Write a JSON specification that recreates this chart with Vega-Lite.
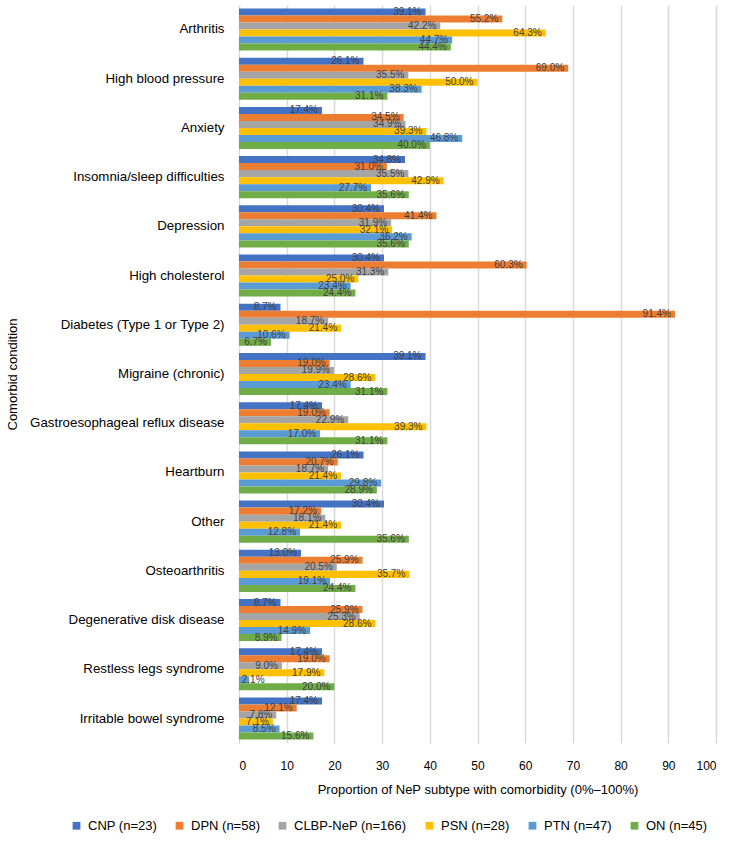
{
  "$schema": "https://vega.github.io/schema/vega-lite/v6.json",
  "autosize": {"type": "none"},
  "padding": {"left": 239, "top": 5, "right": 20, "bottom": 100},
  "width": 477,
  "height": 738,
  "background": "white",
  "config": {
    "font": "Liberation Sans",
    "view": {"stroke": null}
  },
  "data": {
    "values": [
      {"condition": "Arthritis", "group": "CNP (n=23)", "value": 39.1},
      {"condition": "Arthritis", "group": "DPN (n=58)", "value": 55.2},
      {"condition": "Arthritis", "group": "CLBP-NeP (n=166)", "value": 42.2},
      {"condition": "Arthritis", "group": "PSN (n=28)", "value": 64.3},
      {"condition": "Arthritis", "group": "PTN (n=47)", "value": 44.7},
      {"condition": "Arthritis", "group": "ON (n=45)", "value": 44.4},
      {"condition": "High blood pressure", "group": "CNP (n=23)", "value": 26.1},
      {"condition": "High blood pressure", "group": "DPN (n=58)", "value": 69.0},
      {"condition": "High blood pressure", "group": "CLBP-NeP (n=166)", "value": 35.5},
      {"condition": "High blood pressure", "group": "PSN (n=28)", "value": 50.0},
      {"condition": "High blood pressure", "group": "PTN (n=47)", "value": 38.3},
      {"condition": "High blood pressure", "group": "ON (n=45)", "value": 31.1},
      {"condition": "Anxiety", "group": "CNP (n=23)", "value": 17.4},
      {"condition": "Anxiety", "group": "DPN (n=58)", "value": 34.5},
      {"condition": "Anxiety", "group": "CLBP-NeP (n=166)", "value": 34.9},
      {"condition": "Anxiety", "group": "PSN (n=28)", "value": 39.3},
      {"condition": "Anxiety", "group": "PTN (n=47)", "value": 46.8},
      {"condition": "Anxiety", "group": "ON (n=45)", "value": 40.0},
      {"condition": "Insomnia/sleep difficulties", "group": "CNP (n=23)", "value": 34.8},
      {"condition": "Insomnia/sleep difficulties", "group": "DPN (n=58)", "value": 31.0},
      {"condition": "Insomnia/sleep difficulties", "group": "CLBP-NeP (n=166)", "value": 35.5},
      {"condition": "Insomnia/sleep difficulties", "group": "PSN (n=28)", "value": 42.9},
      {"condition": "Insomnia/sleep difficulties", "group": "PTN (n=47)", "value": 27.7},
      {"condition": "Insomnia/sleep difficulties", "group": "ON (n=45)", "value": 35.6},
      {"condition": "Depression", "group": "CNP (n=23)", "value": 30.4},
      {"condition": "Depression", "group": "DPN (n=58)", "value": 41.4},
      {"condition": "Depression", "group": "CLBP-NeP (n=166)", "value": 31.9},
      {"condition": "Depression", "group": "PSN (n=28)", "value": 32.1},
      {"condition": "Depression", "group": "PTN (n=47)", "value": 36.2},
      {"condition": "Depression", "group": "ON (n=45)", "value": 35.6},
      {"condition": "High cholesterol", "group": "CNP (n=23)", "value": 30.4},
      {"condition": "High cholesterol", "group": "DPN (n=58)", "value": 60.3},
      {"condition": "High cholesterol", "group": "CLBP-NeP (n=166)", "value": 31.3},
      {"condition": "High cholesterol", "group": "PSN (n=28)", "value": 25.0},
      {"condition": "High cholesterol", "group": "PTN (n=47)", "value": 23.4},
      {"condition": "High cholesterol", "group": "ON (n=45)", "value": 24.4},
      {"condition": "Diabetes (Type 1 or Type 2)", "group": "CNP (n=23)", "value": 8.7},
      {"condition": "Diabetes (Type 1 or Type 2)", "group": "DPN (n=58)", "value": 91.4},
      {"condition": "Diabetes (Type 1 or Type 2)", "group": "CLBP-NeP (n=166)", "value": 18.7},
      {"condition": "Diabetes (Type 1 or Type 2)", "group": "PSN (n=28)", "value": 21.4},
      {"condition": "Diabetes (Type 1 or Type 2)", "group": "PTN (n=47)", "value": 10.6},
      {"condition": "Diabetes (Type 1 or Type 2)", "group": "ON (n=45)", "value": 6.7},
      {"condition": "Migraine (chronic)", "group": "CNP (n=23)", "value": 39.1},
      {"condition": "Migraine (chronic)", "group": "DPN (n=58)", "value": 19.0},
      {"condition": "Migraine (chronic)", "group": "CLBP-NeP (n=166)", "value": 19.9},
      {"condition": "Migraine (chronic)", "group": "PSN (n=28)", "value": 28.6},
      {"condition": "Migraine (chronic)", "group": "PTN (n=47)", "value": 23.4},
      {"condition": "Migraine (chronic)", "group": "ON (n=45)", "value": 31.1},
      {"condition": "Gastroesophageal reflux disease", "group": "CNP (n=23)", "value": 17.4},
      {"condition": "Gastroesophageal reflux disease", "group": "DPN (n=58)", "value": 19.0},
      {"condition": "Gastroesophageal reflux disease", "group": "CLBP-NeP (n=166)", "value": 22.9},
      {"condition": "Gastroesophageal reflux disease", "group": "PSN (n=28)", "value": 39.3},
      {"condition": "Gastroesophageal reflux disease", "group": "PTN (n=47)", "value": 17.0},
      {"condition": "Gastroesophageal reflux disease", "group": "ON (n=45)", "value": 31.1},
      {"condition": "Heartburn", "group": "CNP (n=23)", "value": 26.1},
      {"condition": "Heartburn", "group": "DPN (n=58)", "value": 20.7},
      {"condition": "Heartburn", "group": "CLBP-NeP (n=166)", "value": 18.7},
      {"condition": "Heartburn", "group": "PSN (n=28)", "value": 21.4},
      {"condition": "Heartburn", "group": "PTN (n=47)", "value": 29.8},
      {"condition": "Heartburn", "group": "ON (n=45)", "value": 28.9},
      {"condition": "Other", "group": "CNP (n=23)", "value": 30.4},
      {"condition": "Other", "group": "DPN (n=58)", "value": 17.2},
      {"condition": "Other", "group": "CLBP-NeP (n=166)", "value": 18.1},
      {"condition": "Other", "group": "PSN (n=28)", "value": 21.4},
      {"condition": "Other", "group": "PTN (n=47)", "value": 12.8},
      {"condition": "Other", "group": "ON (n=45)", "value": 35.6},
      {"condition": "Osteoarthritis", "group": "CNP (n=23)", "value": 13.0},
      {"condition": "Osteoarthritis", "group": "DPN (n=58)", "value": 25.9},
      {"condition": "Osteoarthritis", "group": "CLBP-NeP (n=166)", "value": 20.5},
      {"condition": "Osteoarthritis", "group": "PSN (n=28)", "value": 35.7},
      {"condition": "Osteoarthritis", "group": "PTN (n=47)", "value": 19.1},
      {"condition": "Osteoarthritis", "group": "ON (n=45)", "value": 24.4},
      {"condition": "Degenerative disk disease", "group": "CNP (n=23)", "value": 8.7},
      {"condition": "Degenerative disk disease", "group": "DPN (n=58)", "value": 25.9},
      {"condition": "Degenerative disk disease", "group": "CLBP-NeP (n=166)", "value": 25.3},
      {"condition": "Degenerative disk disease", "group": "PSN (n=28)", "value": 28.6},
      {"condition": "Degenerative disk disease", "group": "PTN (n=47)", "value": 14.9},
      {"condition": "Degenerative disk disease", "group": "ON (n=45)", "value": 8.9},
      {"condition": "Restless legs syndrome", "group": "CNP (n=23)", "value": 17.4},
      {"condition": "Restless legs syndrome", "group": "DPN (n=58)", "value": 19.0},
      {"condition": "Restless legs syndrome", "group": "CLBP-NeP (n=166)", "value": 9.0},
      {"condition": "Restless legs syndrome", "group": "PSN (n=28)", "value": 17.9},
      {"condition": "Restless legs syndrome", "group": "PTN (n=47)", "value": 2.1},
      {"condition": "Restless legs syndrome", "group": "ON (n=45)", "value": 20.0},
      {"condition": "Irritable bowel syndrome", "group": "CNP (n=23)", "value": 17.4},
      {"condition": "Irritable bowel syndrome", "group": "DPN (n=58)", "value": 12.1},
      {"condition": "Irritable bowel syndrome", "group": "CLBP-NeP (n=166)", "value": 7.8},
      {"condition": "Irritable bowel syndrome", "group": "PSN (n=28)", "value": 7.1},
      {"condition": "Irritable bowel syndrome", "group": "PTN (n=47)", "value": 8.5},
      {"condition": "Irritable bowel syndrome", "group": "ON (n=45)", "value": 15.6}
    ]
  },
  "transform": [
    {"calculate": "format(datum.value, '.1f') + '%'", "as": "label"},
    {"calculate": "max(datum.value, 6.2)", "as": "labelPos"}
  ],
  "encoding": {
    "y": {
      "field": "condition",
      "type": "nominal",
      "sort": null,
      "scale": {"paddingInner": 0.145, "paddingOuter": 0.07},
      "axis": {
        "title": "Comorbid condition",
        "titleFontSize": 13,
        "titleFontWeight": "normal",
        "titleColor": "#000000",
        "titlePadding": 20,
        "labelFontSize": 13.3,
        "labelColor": "#000000",
        "labelPadding": 15,
        "ticks": false,
        "domain": true,
        "domainColor": "#d9d9d9",
        "labelLimit": 300
      }
    },
    "yOffset": {
      "field": "group",
      "type": "nominal",
      "sort": ["CNP (n=23)", "DPN (n=58)", "CLBP-NeP (n=166)", "PSN (n=28)", "PTN (n=47)", "ON (n=45)"],
      "scale": {"paddingInner": 0, "paddingOuter": 0}
    }
  },
  "layer": [
    {
      "mark": {"type": "bar"},
      "encoding": {
        "x": {
          "field": "value",
          "type": "quantitative",
          "scale": {"domain": [0, 100], "nice": false},
          "axis": {
            "title": "Proportion of NeP subtype with comorbidity (0%\u2013100%)",
            "titleFontSize": 13,
            "titleFontWeight": "normal",
            "titleColor": "#000000",
            "titlePadding": 12,
            "values": [0, 10, 20, 30, 40, 50, 60, 70, 80, 90, 100],
            "labelFontSize": 12,
            "labelColor": "#000000",
            "labelPadding": 17,
            "ticks": false,
            "domain": false,
            "grid": true,
            "gridColor": "#d9d9d9",
            "gridWidth": 1.5
          }
        },
        "color": {
          "field": "group",
          "type": "nominal",
          "sort": ["CNP (n=23)", "DPN (n=58)", "CLBP-NeP (n=166)", "PSN (n=28)", "PTN (n=47)", "ON (n=45)"],
          "scale": {
            "domain": ["CNP (n=23)", "DPN (n=58)", "CLBP-NeP (n=166)", "PSN (n=28)", "PTN (n=47)", "ON (n=45)"],
            "range": ["#4472C4", "#ED7D31", "#A5A5A5", "#FFC000", "#5B9BD5", "#70AD47"]
          },
          "legend": {
            "title": null,
            "orient": "none",
            "direction": "horizontal",
            "legendX": -169,
            "legendY": 814,
            "symbolType": "square",
            "symbolSize": 60,
            "symbolStrokeWidth": 0,
            "labelFontSize": 13,
            "labelColor": "#000000",
            "labelOffset": 5,
            "columnPadding": 16
          }
        }
      }
    },
    {
      "mark": {"type": "text", "align": "right", "baseline": "middle", "dx": -4, "fontSize": 10, "color": "#404040"},
      "encoding": {
        "x": {"field": "labelPos", "type": "quantitative"},
        "text": {"field": "label"}
      }
    }
  ]
}
